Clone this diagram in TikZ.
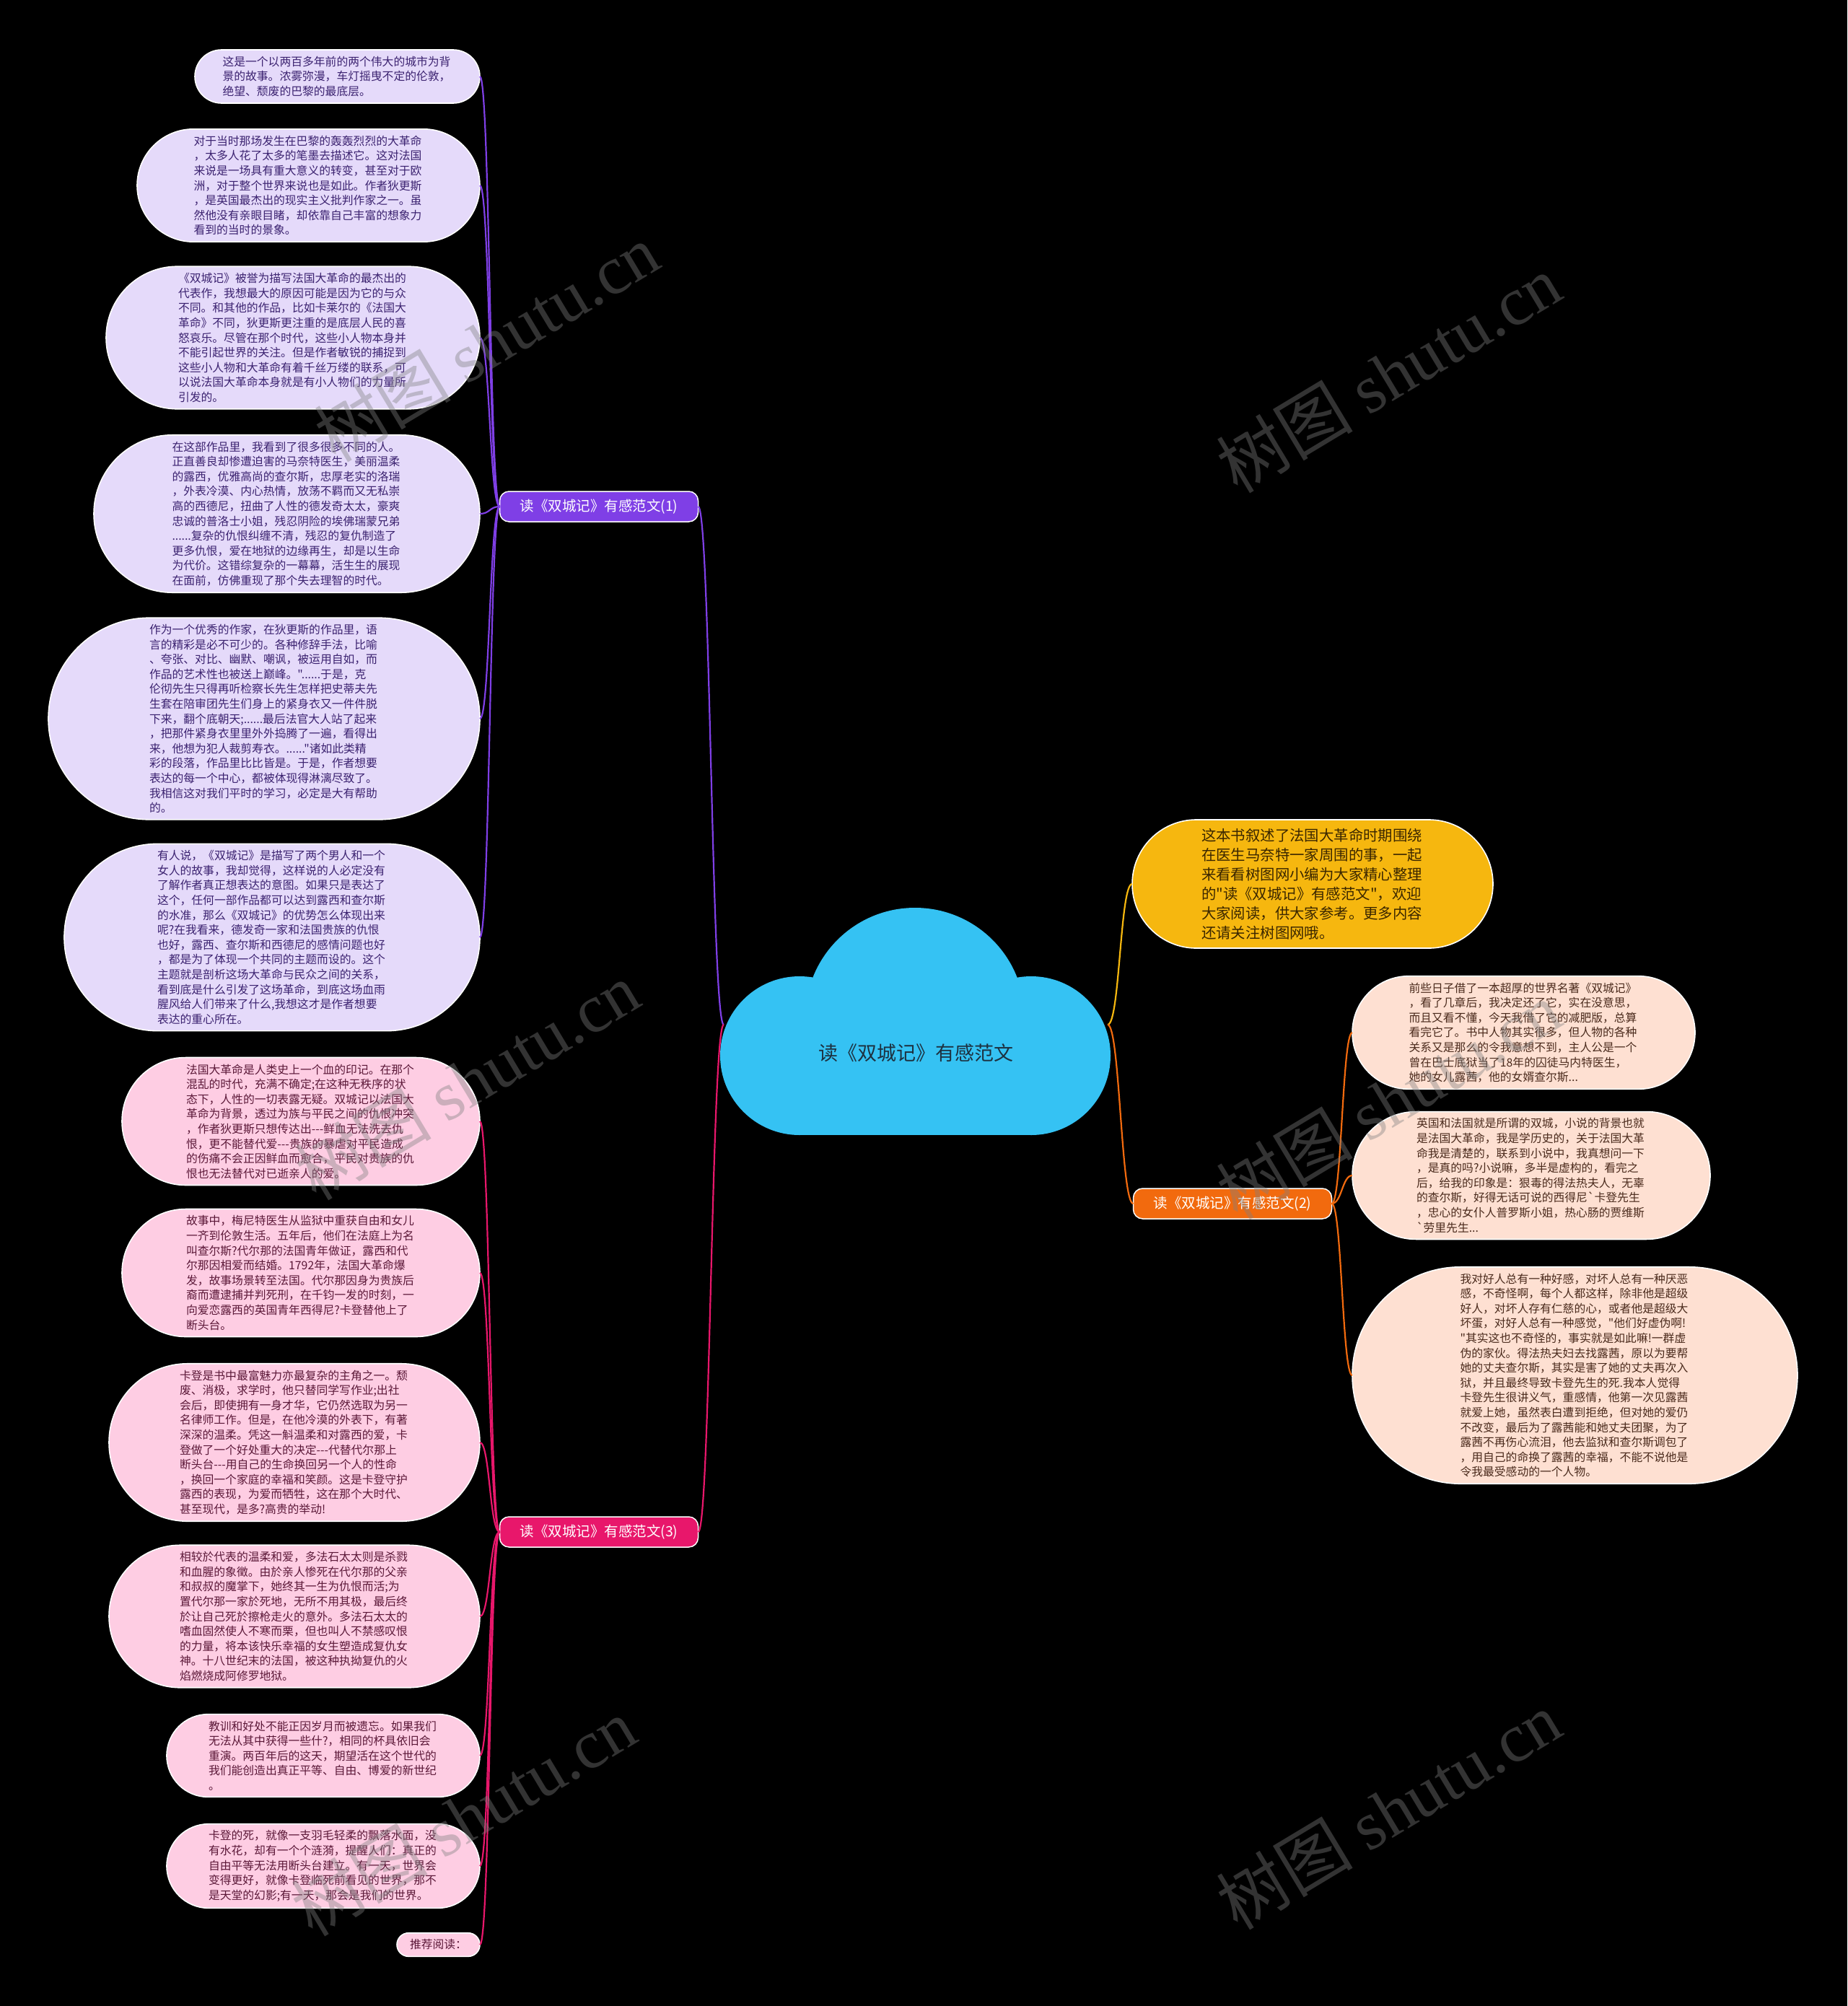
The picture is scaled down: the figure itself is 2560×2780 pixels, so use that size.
\documentclass[tikz,border=0pt]{standalone}
\usepackage{fontspec}
\setmainfont{Noto Sans CJK SC}
\newfontfamily\cjkf{Noto Sans CJK SC}
\newfontfamily\wmlat{Liberation Serif}
\usetikzlibrary{shapes.misc}
\definecolor{cpur}{HTML}{7F3FE6}
\definecolor{cpnk}{HTML}{E8176B}
\definecolor{corg}{HTML}{F26A0E}
\definecolor{cyel}{HTML}{F6B70F}
\definecolor{ccloud}{HTML}{35C2F3}
\definecolor{flav}{HTML}{E5DAFA}
\definecolor{tlav}{HTML}{3B2270}
\definecolor{fpnk}{HTML}{FECDE3}
\definecolor{tpnk}{HTML}{5B1838}
\definecolor{fpch}{HTML}{FEE0D2}
\definecolor{tpch}{HTML}{4A2A1C}
\definecolor{tyel}{HTML}{3A2600}
\definecolor{tcloud}{HTML}{1D3140}
\newcommand\leaffont{\cjkf\fontsize{15.8}{20.6}\selectfont}
\newcommand\yfont{\cjkf\fontsize{20.4}{27}\selectfont}
\newcommand\brfont{\cjkf\fontsize{19.5}{24}\selectfont}
\newcommand\cloudfont{\cjkf\fontsize{27}{32}\selectfont}
\newcommand\wmfont{\cjkf\fontsize{95}{100}\selectfont}
\newcommand\hy{\mbox{-}}
\begin{document}
\begin{tikzpicture}[x=1pt,y=-1pt,
  leafbase/.style={rounded rectangle, draw=white, line width=1.6pt, inner xsep=0pt, inner ysep=9pt, outer sep=0pt, align=left, font=\leaffont},
  leaf/.style={leafbase, text width=318pt},
  lav/.style={leaf, fill=flav, text=tlav},
  pnk/.style={leaf, fill=fpnk, text=tpnk},
  pch/.style={leaf, fill=fpch, text=tpch},
  brbox/.style={rectangle, rounded corners=13pt, draw=white, line width=1.5pt, text=white, font=\brfont, minimum width=275pt, minimum height=42pt, inner sep=0pt, outer sep=0pt},
  ynode/.style={rounded rectangle, fill=cyel, draw=white, line width=1.6pt, text=tyel, text width=308pt, align=left, font=\yfont, inner xsep=0pt, inner ysep=12pt, outer sep=0pt},
  conn/.style={line width=2.2pt},
  wm/.style={text=gray, text opacity=0.4, font=\wmfont, rotate=31}
]
\useasboundingbox (0,0) rectangle (2560,2780);
\fill[black] (0,0) rectangle (2560,2780);

% cloud
\fill[ccloud] (1108,1463) circle[radius=110pt];
\fill[ccloud] (1429,1463) circle[radius=110pt];
\fill[ccloud] (1268,1410) circle[radius=152pt];
\fill[ccloud] (1108,1463) rectangle (1429,1573);
\node[text=tcloud, font=\cloudfont] (root) at (1269,1459) {读《双城记》有感范文};
\coordinate (cl) at (1003,1420);
\coordinate (cr) at (1535,1420);

% branches
\node[brbox, fill=cpur] (b1) at (830,702) {读《双城记》有感范文(1)};
\node[brbox, fill=cpnk] (b3) at (830,2123) {读《双城记》有感范文(3)};
\node[brbox, fill=corg] (b2) at (1708,1668) {读《双城记》有感范文(2)};

% branch 1 leaves
\node[lav, anchor=east, minimum width=395pt] (l1) at (665,106) {这是一个以两百多年前的两个伟大的城市为背\\景的故事。浓雾弥漫，车灯摇曳不定的伦敦，\\绝望、颓废的巴黎的最底层。};
\node[lav, anchor=east, minimum width=475pt] (l2) at (665,257) {对于当时那场发生在巴黎的轰轰烈烈的大革命\\，太多人花了太多的笔墨去描述它。这对法国\\来说是一场具有重大意义的转变，甚至对于欧\\洲，对于整个世界来说也是如此。作者狄更斯\\，是英国最杰出的现实主义批判作家之一。虽\\然他没有亲眼目睹，却依靠自己丰富的想象力\\看到的当时的景象。};
\node[lav, anchor=east, minimum width=518pt] (l3) at (665,468) {《双城记》被誉为描写法国大革命的最杰出的\\代表作，我想最大的原因可能是因为它的与众\\不同。和其他的作品，比如卡莱尔的《法国大\\革命》不同，狄更斯更注重的是底层人民的喜\\怒哀乐。尽管在那个时代，这些小人物本身并\\不能引起世界的关注。但是作者敏锐的捕捉到\\这些小人物和大革命有着千丝万缕的联系，可\\以说法国大革命本身就是有小人物们的力量所\\引发的。};
\node[lav, anchor=east, minimum width=535pt] (l4) at (665,712) {在这部作品里，我看到了很多很多不同的人。\\正直善良却惨遭迫害的马奈特医生，美丽温柔\\的露西，优雅高尚的查尔斯，忠厚老实的洛瑞\\，外表冷漠、内心热情，放荡不羁而又无私崇\\高的西德尼，扭曲了人性的德发奇太太，豪爽\\忠诚的普洛士小姐，残忍阴险的埃佛瑞蒙兄弟\\......复杂的仇恨纠缠不清，残忍的复仇制造了\\更多仇恨，爱在地狱的边缘再生，却是以生命\\为代价。这错综复杂的一幕幕，活生生的展现\\在面前，仿佛重现了那个失去理智的时代。};
\node[lav, anchor=east, minimum width=598pt] (l5) at (665,996) {作为一个优秀的作家，在狄更斯的作品里，语\\言的精彩是必不可少的。各种修辞手法，比喻\\、夸张、对比、幽默、嘲讽，被运用自如，而\\作品的艺术性也被送上巅峰。"......于是，克\\伦彻先生只得再听检察长先生怎样把史蒂夫先\\生套在陪审团先生们身上的紧身衣又一件件脱\\下来，翻个底朝天;......最后法官大人站了起来\\，把那件紧身衣里里外外捣腾了一遍，看得出\\来，他想为犯人裁剪寿衣。......"诸如此类精\\彩的段落，作品里比比皆是。于是，作者想要\\表达的每一个中心，都被体现得淋漓尽致了。\\我相信这对我们平时的学习，必定是大有帮助\\的。};
\node[lav, anchor=east, minimum width=576pt] (l6) at (665,1299) {有人说，《双城记》是描写了两个男人和一个\\女人的故事，我却觉得，这样说的人必定没有\\了解作者真正想表达的意图。如果只是表达了\\这个，任何一部作品都可以达到露西和查尔斯\\的水准，那么《双城记》的优势怎么体现出来\\呢?在我看来，德发奇一家和法国贵族的仇恨\\也好，露西、查尔斯和西德尼的感情问题也好\\，都是为了体现一个共同的主题而设的。这个\\主题就是剖析这场大革命与民众之间的关系，\\看到底是什么引发了这场革命，到底这场血雨\\腥风给人们带来了什么,我想这才是作者想要\\表达的重心所在。};

% branch 3 leaves
\node[pnk, anchor=east, minimum width=496pt] (p1) at (665,1554) {法国大革命是人类史上一个血的印记。在那个\\混乱的时代，充满不确定;在这种无秩序的状\\态下，人性的一切表露无疑。双城记以法国大\\革命为背景，透过为族与平民之间的仇恨冲突\\，作者狄更斯只想传达出\hy\hy\hy 鲜血无法洗去仇\\恨，更不能替代爱\hy\hy\hy 贵族的暴虐对平民造成\\的伤痛不会正因鲜血而愈合，平民对贵族的仇\\恨也无法替代对已逝亲人的爱。};
\node[pnk, anchor=east, minimum width=496pt] (p2) at (665,1764) {故事中，梅尼特医生从监狱中重获自由和女儿\\一齐到伦敦生活。五年后，他们在法庭上为名\\叫查尔斯?代尔那的法国青年做证，露西和代\\尔那因相爱而结婚。1792年，法国大革命爆\\发，故事场景转至法国。代尔那因身为贵族后\\裔而遭逮捕并判死刑，在千钧一发的时刻，一\\向爱恋露西的英国青年西得尼?卡登替他上了\\断头台。};
\node[pnk, anchor=east, minimum width=514pt] (p3) at (665,1999) {卡登是书中最富魅力亦最复杂的主角之一。颓\\废、消极，求学时，他只替同学写作业;出社\\会后，即使拥有一身才华，它仍然选取为另一\\名律师工作。但是，在他冷漠的外表下，有著\\深深的温柔。凭这一斛温柔和对露西的爱，卡\\登做了一个好处重大的决定\hy\hy\hy 代替代尔那上\\断头台\hy\hy\hy 用自己的生命换回另一个人的性命\\，换回一个家庭的幸福和笑颜。这是卡登守护\\露西的表现，为爱而牺牲，这在那个大时代、\\甚至现代，是多?高贵的举动!};
\node[pnk, anchor=east, minimum width=514pt] (p4) at (665,2240) {相较於代表的温柔和爱，多法石太太则是杀戮\\和血腥的象徵。由於亲人惨死在代尔那的父亲\\和叔叔的魔掌下，她终其一生为仇恨而活;为\\置代尔那一家於死地，无所不用其极，最后终\\於让自己死於擦枪走火的意外。多法石太太的\\嗜血固然使人不寒而栗，但也叫人不禁感叹恨\\的力量，将本该快乐幸福的女生塑造成复仇女\\神。十八世纪末的法国，被这种执拗复仇的火\\焰燃烧成阿修罗地狱。};
\node[pnk, anchor=east, minimum width=434pt] (p5) at (665,2433) {教训和好处不能正因岁月而被遗忘。如果我们\\无法从其中获得一些什?，相同的杯具依旧会\\重演。两百年后的这天，期望活在这个世代的\\我们能创造出真正平等、自由、博爱的新世纪\\。};
\node[pnk, anchor=east, minimum width=434pt] (p6) at (665,2586) {卡登的死，就像一支羽毛轻柔的飘落水面，没\\有水花，却有一个个涟漪，提醒人们：真正的\\自由平等无法用断头台建立。有一天，世界会\\变得更好，就像卡登临死前看见的世界，那不\\是天堂的幻影;有一天，那会是我们的世界。};
\node[leafbase, fill=fpnk, text=tpnk, anchor=east, minimum width=115pt] (p7) at (665,2695) {推荐阅读：};

% right side
\node[ynode, anchor=west, minimum width=500pt] (y) at (1569,1225) {这本书叙述了法国大革命时期围绕\\在医生马奈特一家周围的事，一起\\来看看树图网小编为大家精心整理\\的"读《双城记》有感范文"，欢迎\\大家阅读，供大家参考。更多内容\\还请关注树图网哦。};
\node[pch, anchor=west, minimum width=475pt] (r1) at (1874,1431) {前些日子借了一本超厚的世界名著《双城记》\\，看了几章后，我决定还了它，实在没意思，\\而且又看不懂，今天我借了它的减肥版，总算\\看完它了。书中人物其实很多，但人物的各种\\关系又是那么的令我意想不到，主人公是一个\\曾在巴士底狱当了18年的囚徒马内特医生，\\她的女儿露茜，他的女婿查尔斯...};
\node[pch, anchor=west, minimum width=496pt] (r2) at (1874,1629) {英国和法国就是所谓的双城，小说的背景也就\\是法国大革命，我是学历史的，关于法国大革\\命我是清楚的，联系到小说中，我真想问一下\\，是真的吗?小说嘛，多半是虚构的，看完之\\后，给我的印象是：狠毒的得法热夫人，无辜\\的查尔斯，好得无话可说的西得尼`卡登先生\\，忠心的女仆人普罗斯小姐，热心肠的贾维斯\\`劳里先生...};
\node[pch, anchor=west, minimum width=617pt] (r3) at (1874,1906) {我对好人总有一种好感，对坏人总有一种厌恶\\感，不奇怪啊，每个人都这样，除非他是超级\\好人，对坏人存有仁慈的心，或者他是超级大\\坏蛋，对好人总有一种感觉，"他们好虚伪啊!\\"其实这也不奇怪的，事实就是如此嘛!一群虚\\伪的家伙。得法热夫妇去找露茜，原以为要帮\\她的丈夫查尔斯，其实是害了她的丈夫再次入\\狱，并且最终导致卡登先生的死.我本人觉得\\卡登先生很讲义气，重感情，他第一次见露茜\\就爱上她，虽然表白遭到拒绝，但对她的爱仍\\不改变，最后为了露茜能和她丈夫团聚，为了\\露茜不再伤心流泪，他去监狱和查尔斯调包了\\，用自己的命换了露茜的幸福，不能不说他是\\令我最受感动的一个人物。};

% connectors
\draw[conn, cpur] (cl) .. controls +(-17,0) and +(17,0) .. (b1.east);
\draw[conn, cpnk] (cl) .. controls +(-17,0) and +(17,0) .. (b3.east);
\draw[conn, cyel] (cr) .. controls +(17,0) and +(-17,0) .. (y.west);
\draw[conn, corg] (cr) .. controls +(17,0) and +(-17,0) .. (b2.west);
\foreach \t in {l1,l2,l3,l4,l5,l6}{
  \draw[conn, cpur] (b1.west) .. controls +(-14,0) and +(14,0) .. (\t.east);
}
\foreach \t in {p1,p2,p3,p4,p5,p6,p7}{
  \draw[conn, cpnk] (b3.west) .. controls +(-14,0) and +(14,0) .. (\t.east);
}
\foreach \t in {r1,r2,r3}{
  \draw[conn, corg] (b2.east) .. controls +(14,0) and +(-14,0) .. (\t.west);
}

% watermarks
\node[wm] (w1) at (674,475) {树图 {\wmlat shutu.cn}};
\node[wm] (w2) at (1924,518) {树图 {\wmlat shutu.cn}};
\node[wm] (w3) at (647,1498) {树图 {\wmlat shutu.cn}};
\node[wm] (w4) at (1924,1525) {树图 {\wmlat shutu.cn}};
\node[wm] (w5) at (642,2518) {树图 {\wmlat shutu.cn}};
\node[wm] (w6) at (1924,2509) {树图 {\wmlat shutu.cn}};
\end{tikzpicture}
\end{document}
